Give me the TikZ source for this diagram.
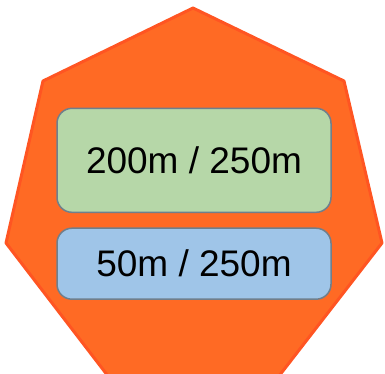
\documentclass[tikz,border=0pt]{standalone}
\usepackage{fontspec}
\setmainfont{Liberation Sans}
\usepackage{xcolor}
\definecolor{hepfill}{HTML}{FF6A24}
\definecolor{hepline}{HTML}{FF5522}
\definecolor{greenbox}{HTML}{B6D7A8}
\definecolor{bluebox}{HTML}{9FC5E8}
\definecolor{boxline}{HTML}{6F7F8C}
\begin{document}
\begin{tikzpicture}[x=1pt, y=-1pt,
  valbox/.style={draw=boxline, line width=1.5pt, rounded corners=15pt,
    minimum width=274pt, inner sep=0pt, font=\fontsize{37}{40}\selectfont}]
  \useasboundingbox (0,0) rectangle (385,373);
  % heptagon
  \fill[hepfill] (193,8) -- (344,81) -- (382,243) -- (279,376) -- (108,376) -- (6,243) -- (43,81) -- cycle;
  \draw[hepline, line width=3pt, line join=round] (193,8) -- (344,81) -- (382,243) -- (279,376) -- (108,376) -- (6,243) -- (43,81) -- cycle;

  \node[valbox, fill=greenbox, minimum height=104pt] (used) at (194,160.3) {200m / 250m};
  \node[valbox, fill=bluebox, minimum height=71pt] (left) at (194,263.7) {50m / 250m};
\end{tikzpicture}
\end{document}
